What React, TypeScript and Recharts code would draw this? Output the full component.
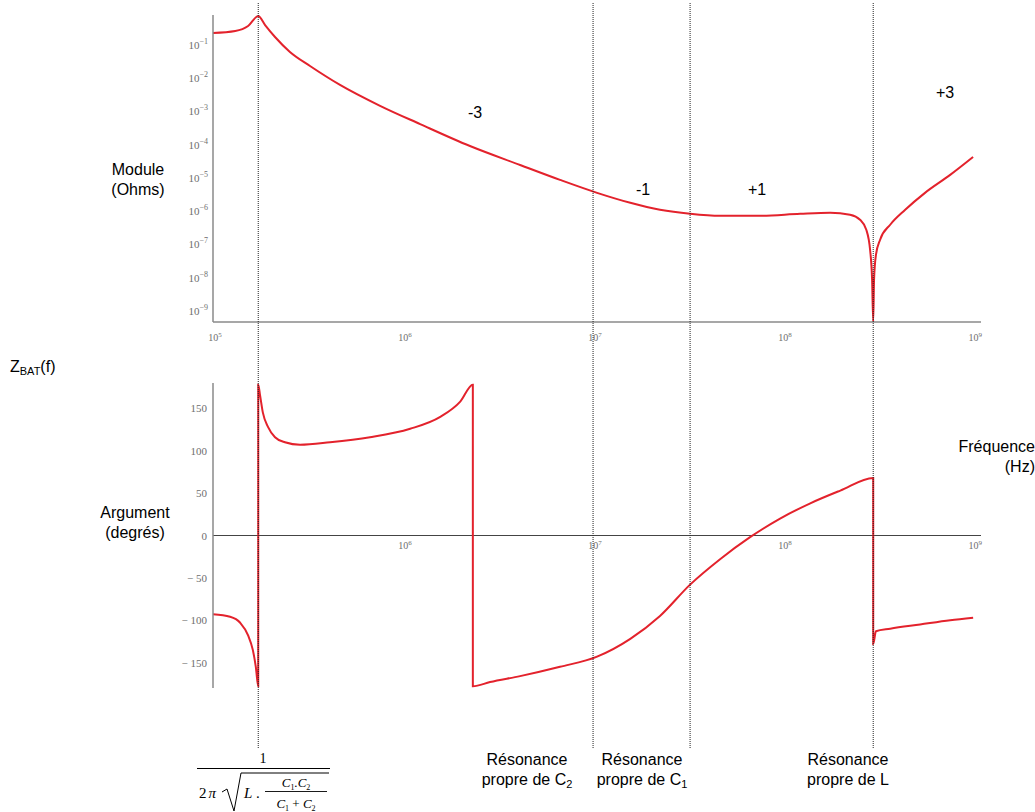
import React from 'react';
import { LineChart, Line, XAxis, YAxis, ReferenceLine, ReferenceDot } from 'recharts';

// |Z| (Ohms) vs frequency (Hz)
const modFreq = [
  1.0e5, 1.31e5, 1.53e5, 1.73e5, 1.88e5, 2.12e5, 2.54e5, 3.24e5, 4.66e5, 7.57e5,
  1.23e6, 2.25e6, 4.13e6, 6.7e6, 1.05e7, 1.57e7, 2.25e7, 3.24e7, 4.66e7, 7.57e7,
  1.23e8, 1.77e8, 2.25e8, 2.54e8, 2.74e8, 2.87e8, 2.94e8, 2.98e8, 3.01e8, 3.08e8,
  3.24e8, 3.66e8, 4.39e8, 5.58e8, 7.57e8, 1.0e9,
];
const modValue = [
  0.229, 0.263, 0.372, 0.741, 0.398, 0.174, 0.0617, 0.0234, 6.31e-3, 1.48e-3,
  4.17e-4, 9.12e-5, 2.45e-5, 8.71e-6, 3.55e-6, 1.78e-6, 1.1e-6, 8.32e-7, 7.24e-7, 7.24e-7,
  8.32e-7, 8.91e-7, 7.76e-7, 5.5e-7, 2.75e-7, 6.76e-8, 8.51e-9, 4.7e-10, 8.51e-9, 4.79e-8,
  1.38e-7, 3.89e-7, 1.1e-6, 3.55e-6, 1.23e-5, 4.27e-5,
];

// arg(Z) (degrés) vs frequency (Hz); the jumps use a hair-wide step in f
const argFreq = [
  1.0e5, 1.23e5, 1.39e5, 1.53e5, 1.62e5, 1.68e5, 1.73e5, 1.7301e5, 1.77e5, 1.83e5,
  1.95e5, 2.12e5, 2.39e5, 2.87e5, 4.13e5, 6.7e5, 1.09e6, 1.57e6, 2.0e6, 2.33e6,
  2.3301e6, 2.87e6, 4.13e6, 6.7e6, 1.05e7, 1.57e7, 2.25e7, 3.24e7, 4.66e7, 6.7e7,
  9.64e7, 1.39e8, 2.0e8, 2.98e8, 2.9801e8, 3.08e8, 3.66e8, 5.26e8, 7.57e8, 1.0e9,
];
const argValue = [
  -93, -96, -103, -118, -135, -155, -178, 178, 165, 145,
  128, 116, 110, 107, 110, 116, 126, 140, 158, 178,
  -178, -173, -166, -155, -143, -122, -95, -58, -28, -2,
  20, 38, 53, 68, -128, -113, -110, -105, -100, -97,
];

const freqTicks = [1e5, 1e6, 1e7, 1e8, 1e9];
const modTicks = [1e-1, 1e-2, 1e-3, 1e-4, 1e-5, 1e-6, 1e-7, 1e-8, 1e-9];
const argTicks = [150, 100, 50, 0, -50, -100, -150];
// 1/(2π√(L.C1C2/(C1+C2))), C2, C1, L
const resonanceFreq = [1.73e5, 1.0e7, 3.24e7, 2.98e8];

const modRows = modFreq.map((f, i) => ({ f, z: modValue[i] }));
const argRows = argFreq.map((f, i) => ({ f, phi: argValue[i] }));
const markerRows = resonanceFreq.map((f) => ({ f, y: 0 }));

const RED = '#e3222c';
const GREY = '#6e6e6e';
const SERIF = '"Liberation Serif", "DejaVu Serif", serif';
const SANS = '"Liberation Sans", Arial, sans-serif';
const X_DOMAIN: [number, number] = [1e5, 1.1e9];

const sup = (v: number) => {
  const e = Math.round(Math.log10(v));
  return e < 0 ? '\u2212' + Math.abs(e) : String(e);
};

function ModTick(props: any) {
  const { x, y, payload } = props;
  return (
    <text x={x - 5} y={y + 4} textAnchor="end" fontFamily={SERIF} fontSize={11} fill={GREY}>
      10<tspan dy={-5} fontSize={8}>{sup(payload.value)}</tspan>
    </text>
  );
}

function FreqTick(props: any) {
  const { x, y, payload } = props;
  return (
    <text x={x + 2} y={y + 17} textAnchor="middle" fontFamily={SERIF} fontSize={10} fill={GREY}>
      10<tspan dy={-4} fontSize={7}>{sup(payload.value)}</tspan>
    </text>
  );
}

function ArgTick(props: any) {
  const { x, y, payload } = props;
  const v = payload.value as number;
  const label = v < 0 ? '\u2212 ' + Math.abs(v) : String(v);
  return (
    <text x={x - 6} y={y + 4} textAnchor="end" fontFamily={SERIF} fontSize={11} fill={GREY}>
      {label}
    </text>
  );
}

const txt: React.CSSProperties = {
  position: 'absolute',
  fontFamily: SANS,
  fontSize: 16,
  lineHeight: '20px',
  color: '#000',
  textAlign: 'center',
  whiteSpace: 'nowrap',
};

function Formula() {
  return (
    <svg width={1035} height={812} style={{ position: 'absolute', left: 0, top: 0, pointerEvents: 'none' }}>
      <g fontFamily={SERIF} fill="#000">
        <text x={263} y={763} fontSize={14} textAnchor="middle">1</text>
        <line x1={197} x2={330} y1={768.5} y2={768.5} stroke="#000" strokeWidth={1.2} />
        <text x={199} y={798} fontSize={15}>2<tspan fontStyle="italic" dx={2}>π</tspan></text>
        <path d="M222,792 L227,789 L234,811 L241,773 L329,773" fill="none" stroke="#000" strokeWidth={1} />
        <text x={244} y={798} fontSize={15} fontStyle="italic">L<tspan fontStyle="normal"> .</tspan></text>
        <text x={296} y={787} fontSize={13} textAnchor="middle" fontStyle="italic">
          C<tspan dy={3} fontSize={8} fontStyle="normal">1</tspan><tspan dy={-3}>.C</tspan><tspan dy={3} fontSize={8} fontStyle="normal">2</tspan>
        </text>
        <line x1={265} x2={327} y1={791.5} y2={791.5} stroke="#000" strokeWidth={0.9} />
        <text x={296} y={808} fontSize={13} textAnchor="middle" fontStyle="italic">
          C<tspan dy={3} fontSize={8} fontStyle="normal">1</tspan><tspan dy={-3} fontStyle="normal"> + </tspan><tspan>C</tspan><tspan dy={3} fontSize={8} fontStyle="normal">2</tspan>
        </text>
      </g>
    </svg>
  );
}

export default function App() {
  return (
    <div style={{ position: 'absolute', left: 0, top: 0, width: 1035, height: 812, background: '#fff', overflow: 'hidden' }}>
      {/* Module */}
      <div style={{ position: 'absolute', left: 0, top: 0 }}>
        <LineChart width={1035} height={345} data={modRows} margin={{ top: 15, right: 54, left: 163, bottom: 0 }}>
          <XAxis
            type="number"
            dataKey="f"
            scale="log"
            domain={X_DOMAIN}
            allowDataOverflow
            ticks={freqTicks}
            height={23}
            tickLine={false}
            tickSize={0}
            axisLine={{ stroke: '#8a8a8a', strokeWidth: 1.5 }}
            tick={<FreqTick />}
          />
          <YAxis
            type="number"
            scale="log"
            domain={[4.6e-10, 0.8]}
            allowDataOverflow
            ticks={modTicks}
            width={50}
            tickLine={false}
            tickSize={0}
            tickMargin={0}
            axisLine={{ stroke: '#8a8a8a', strokeWidth: 1.5 }}
            tick={<ModTick />}
          />
          <Line type="monotone" dataKey="z" stroke={RED} strokeWidth={2} dot={false} isAnimationActive={false} />
        </LineChart>
      </div>

      {/* Argument */}
      <div style={{ position: 'absolute', left: 0, top: 345 }}>
        <LineChart width={1035} height={467} data={argRows} margin={{ top: 38, right: 54, left: 163, bottom: 124 }}>
          <XAxis type="number" dataKey="f" scale="log" domain={X_DOMAIN} allowDataOverflow hide height={0} />
          <YAxis
            type="number"
            domain={[-180, 180]}
            allowDataOverflow
            ticks={argTicks}
            width={50}
            tickLine={false}
            tickSize={0}
            tickMargin={0}
            axisLine={{ stroke: '#8a8a8a', strokeWidth: 1.5 }}
            tick={<ArgTick />}
          />
          <ReferenceLine y={0} stroke="#444" strokeWidth={1} />
          {freqTicks.slice(1).map((f) => (
            <ReferenceDot
              key={f}
              x={f}
              y={0}
              r={0}
              shape={(p: any) => <FreqTick x={p.cx} y={p.cy - 4} payload={{ value: f }} />}
            />
          ))}
          <Line type="monotone" dataKey="phi" stroke={RED} strokeWidth={2} dot={false} isAnimationActive={false} />
        </LineChart>
      </div>

      {/* resonance markers */}
      <div style={{ position: 'absolute', left: 0, top: 0, pointerEvents: 'none' }}>
        <LineChart width={1035} height={812} data={markerRows} margin={{ top: 3, right: 54, left: 213, bottom: 64 }}>
          <XAxis type="number" dataKey="f" scale="log" domain={X_DOMAIN} allowDataOverflow hide height={0} />
          <YAxis type="number" domain={[0, 1]} hide width={0} />
          {resonanceFreq.map((f) => (
            <ReferenceLine key={f} x={f} stroke="#222" strokeWidth={1} strokeDasharray="1 1" />
          ))}
          <Line dataKey="y" stroke="none" dot={false} isAnimationActive={false} />
        </LineChart>
      </div>

      <Formula />

      <div style={{ ...txt, left: 88, top: 160, width: 100 }}>Module<br />(Ohms)</div>
      <div style={{ ...txt, left: 10, top: 357, textAlign: 'left' }}>
        Z<sub style={{ fontSize: 11, verticalAlign: -3 }}>BAT</sub>(f)
      </div>
      <div style={{ ...txt, left: 80, top: 503, width: 110 }}>Argument<br />(degrés)</div>
      <div style={{ ...txt, left: 946, top: 437, textAlign: 'right', width: 89 }}>Fréquence<br />(Hz)</div>

      <div style={{ ...txt, left: 465, top: 103, width: 20 }}>-3</div>
      <div style={{ ...txt, left: 633, top: 180, width: 20 }}>-1</div>
      <div style={{ ...txt, left: 745, top: 180, width: 24 }}>+1</div>
      <div style={{ ...txt, left: 933, top: 83, width: 24 }}>+3</div>

      <div style={{ ...txt, left: 477, top: 750, width: 100 }}>
        Résonance<br />propre de C<sub style={{ fontSize: 11, verticalAlign: -3 }}>2</sub>
      </div>
      <div style={{ ...txt, left: 590, top: 750, width: 104 }}>
        Résonance<br />propre de C<sub style={{ fontSize: 11, verticalAlign: -3 }}>1</sub>
      </div>
      <div style={{ ...txt, left: 798, top: 750, width: 100 }}>
        Résonance<br />propre de L
      </div>
    </div>
  );
}
